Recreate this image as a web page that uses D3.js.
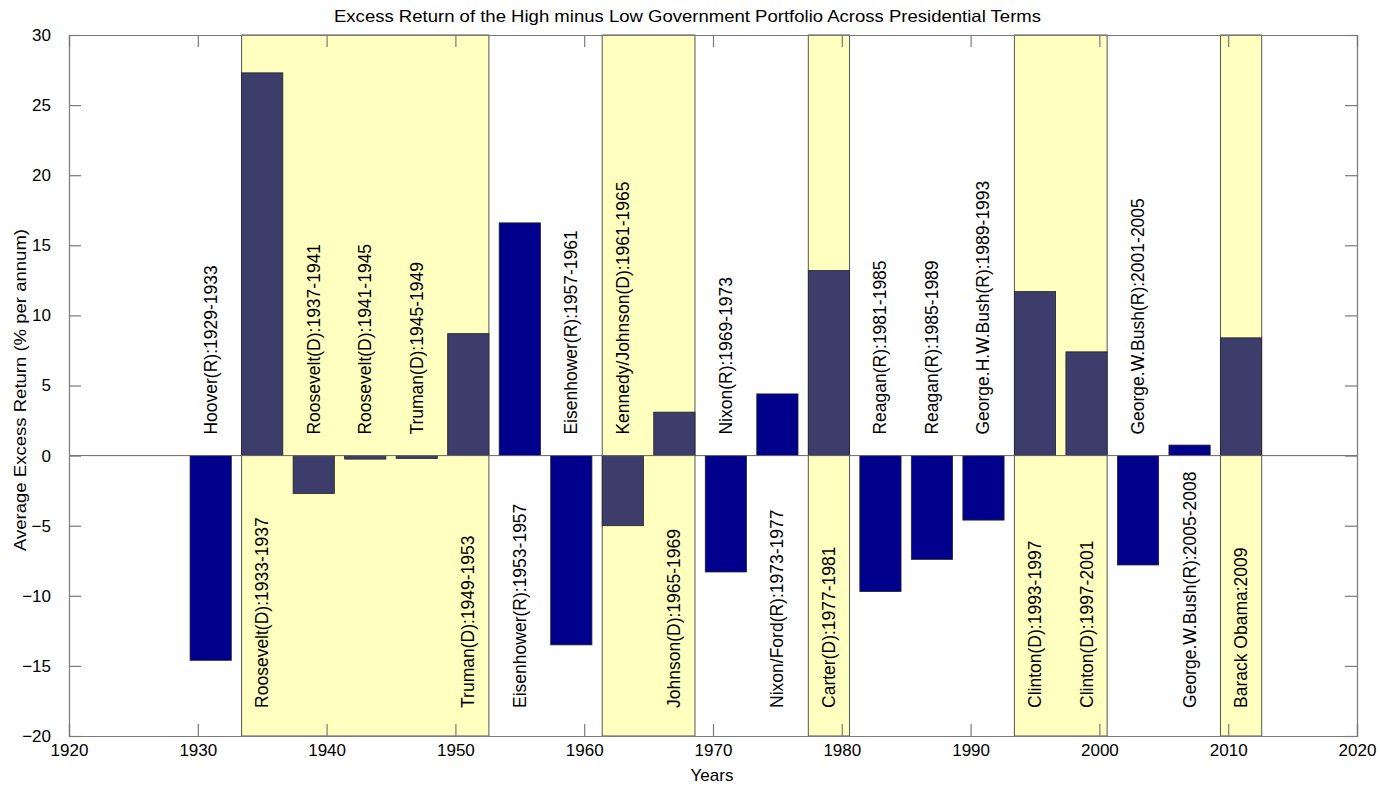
<!DOCTYPE html>
<html>
<head>
<meta charset="utf-8">
<script src="https://cdn.jsdelivr.net/npm/d3@7"></script>
<style>
  body { margin: 0; background: #fff; }
  text { font-family: "Liberation Sans", Arial, sans-serif; }
</style>
</head>
<body>
<div id="chart"></div>
<script>
// Presidential terms (label, term start year, party, excess return %)
const labels = [
  "Hoover(R):1929-1933", "Roosevelt(D):1933-1937", "Roosevelt(D):1937-1941",
  "Roosevelt(D):1941-1945", "Truman(D):1945-1949", "Truman(D):1949-1953",
  "Eisenhower(R):1953-1957", "Eisenhower(R):1957-1961", "Kennedy/Johnson(D):1961-1965",
  "Johnson(D):1965-1969", "Nixon(R):1969-1973", "Nixon/Ford(R):1973-1977",
  "Carter(D):1977-1981", "Reagan(R):1981-1985", "Reagan(R):1985-1989",
  "George.H.W.Bush(R):1989-1993", "Clinton(D):1993-1997", "Clinton(D):1997-2001",
  "George.W.Bush(R):2001-2005", "George.W.Bush(R):2005-2008", "Barack Obama:2009"
];
const termStart = [1929, 1933, 1937, 1941, 1945, 1949, 1953, 1957, 1961, 1965, 1969,
  1973, 1977, 1981, 1985, 1989, 1993, 1997, 2001, 2005, 2009];
const party = ["R", "D", "D", "D", "D", "D", "R", "R", "D", "D", "R",
  "R", "D", "R", "R", "R", "D", "D", "R", "R", "D"];
const excessReturn = [-14.6, 27.3, -2.7, -0.25, -0.2, 8.7, 16.6, -13.5, -5.0, 3.1, -8.3,
  4.4, 13.2, -9.7, -7.4, -4.6, 11.7, 7.4, -7.8, 0.75, 8.4];

const xTicks = [1920, 1930, 1940, 1950, 1960, 1970, 1980, 1990, 2000, 2010, 2020];
const yTicks = [-20, -15, -10, -5, 0, 5, 10, 15, 20, 25, 30];

const width = 1380, height = 787;
const margin = { left: 69, right: 23, top: 35, bottom: 51 };
const barWidth = 3.2; // years

const colors = {
  rep: "#00008c",
  dem: "#3d3d6b",
  shade: "#ffffc0",
  frame: "#7a7a7a"
};

const svg = d3.select("#chart").append("svg")
  .attr("width", width)
  .attr("height", height);

const x = d3.scaleLinear().domain([1920, 2020]).range([margin.left, width - margin.right]);
const y = d3.scaleLinear().domain([-20, 30]).range([height - margin.bottom, margin.top]);

// Democratic runs -> shaded spans
const spans = [];
party.forEach((p, i) => {
  if (p !== "D") return;
  const mid = termStart[i] + 2;
  const last = spans[spans.length - 1];
  if (last && last.end === i - 1) { last.to = mid + barWidth / 2; last.end = i; }
  else spans.push({ from: mid - barWidth / 2, to: mid + barWidth / 2, end: i });
});

const plot = svg.append("g");

plot.selectAll("rect.shade").data(spans).join("rect")
  .attr("class", "shade")
  .attr("x", d => x(d.from))
  .attr("y", y(30))
  .attr("width", d => x(d.to) - x(d.from))
  .attr("height", y(-20) - y(30))
  .style("fill", colors.shade)
  .style("stroke", "#555")
  .style("stroke-width", 1);

// Bars
plot.selectAll("rect.bar").data(excessReturn).join("rect")
  .attr("class", "bar")
  .attr("x", (d, i) => x(termStart[i] + 2 - barWidth / 2))
  .attr("width", x(barWidth) - x(0))
  .attr("y", d => y(Math.max(0, d)))
  .attr("height", d => Math.abs(y(d) - y(0)))
  .style("fill", (d, i) => party[i] === "D" ? colors.dem : colors.rep)
  .style("stroke", "#222")
  .style("stroke-width", 0.8);

// Zero line
plot.append("line")
  .attr("x1", x(1920)).attr("x2", x(2020))
  .attr("y1", y(0)).attr("y2", y(0))
  .style("stroke", "#666")
  .style("stroke-width", 1);

// Rotated term labels
plot.selectAll("text.term").data(labels).join("text")
  .attr("class", "term")
  .attr("transform", (d, i) => {
    const ly = excessReturn[i] < 0 ? y(1.5) : y(-18);
    return `translate(${x(termStart[i] + 2)},${ly}) rotate(-90)`;
  })
  .attr("dominant-baseline", "central")
  .style("font-size", "17.5px")
  .style("fill", "#000")
  .text(d => d);

// Axes (ticks inward, box)
const axes = svg.append("g");
const xb = axes.append("g")
  .attr("transform", `translate(0,${y(-20)})`)
  .call(d3.axisBottom(x).tickValues(xTicks).tickFormat(d3.format("d")).tickSize(-12).tickPadding(18));
const xt = axes.append("g")
  .attr("transform", `translate(0,${y(30)})`)
  .call(d3.axisTop(x).tickValues(xTicks).tickFormat("").tickSize(-12));
const yl = axes.append("g")
  .attr("transform", `translate(${x(1920)},0)`)
  .call(d3.axisLeft(y).tickValues(yTicks).tickSize(-12).tickPadding(18));
const yr = axes.append("g")
  .attr("transform", `translate(${x(2020)},0)`)
  .call(d3.axisRight(y).tickValues(yTicks).tickFormat("").tickSize(-12));

axes.selectAll("path.domain").style("stroke", colors.frame).style("stroke-width", 1.2);
axes.selectAll(".tick line").style("stroke", colors.frame).style("stroke-width", 1.2);
axes.selectAll(".tick text")
  .style("font-family", "'Liberation Sans', Arial, sans-serif")
  .style("font-size", "17px")
  .style("fill", "#000");
xb.selectAll(".tick text").attr("dy", "0.1em");

// Title and axis labels
svg.append("text")
  .attr("x", 334)
  .attr("y", 22)
  .attr("textLength", 707)
  .attr("lengthAdjust", "spacingAndGlyphs")
  .style("font-size", "16.5px")
  .style("fill", "#000")
  .text("Excess Return of the High minus Low Government Portfolio Across Presidential Terms");

svg.append("text")
  .attr("x", 712)
  .attr("y", 781)
  .attr("text-anchor", "middle")
  .style("font-size", "17px")
  .style("fill", "#000")
  .text("Years");

svg.append("text")
  .attr("transform", "translate(20,390) rotate(-90)")
  .attr("text-anchor", "middle")
  .attr("dominant-baseline", "central")
  .attr("textLength", 322)
  .attr("lengthAdjust", "spacingAndGlyphs")
  .style("font-size", "16.5px")
  .style("fill", "#000")
  .text("Average Excess Return (% per annum)");
</script>
</body>
</html>
